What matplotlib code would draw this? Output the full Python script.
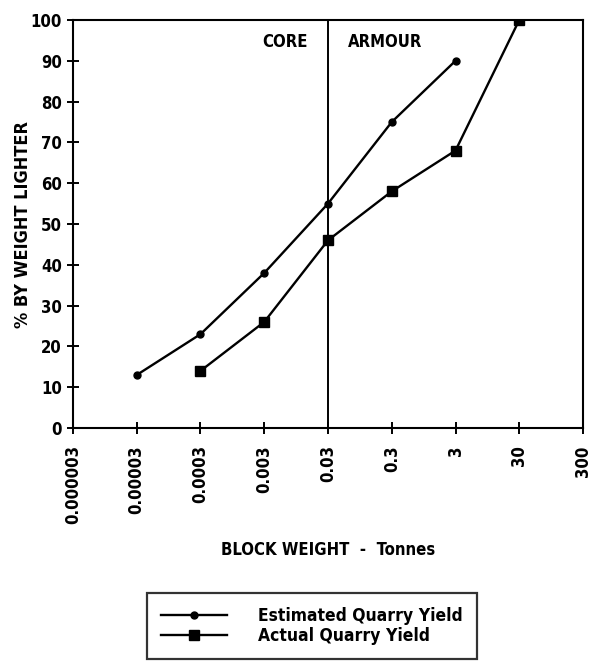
import matplotlib
matplotlib.use("Agg")
import matplotlib.pyplot as plt

# Data
x_ticks = [0.000003, 0.00003, 0.0003, 0.003, 0.03, 0.3, 3, 30, 300]
x_tick_labels = ["0.000003", "0.00003", "0.0003", "0.003", "0.03", "0.3", "3", "30", "300"]
est_x = [0.00003, 0.0003, 0.003, 0.03, 0.3, 3]
est_y = [13, 23, 38, 55, 75, 90]
act_x = [0.0003, 0.003, 0.03, 0.3, 3, 30]
act_y = [14, 26, 46, 58, 68, 100]
divider_x = 0.03

plt.rcParams['font.family'] = ['DejaVu Sans Condensed', 'DejaVu Sans']
plt.rcParams['font.weight'] = 'bold'
plt.rcParams['font.stretch'] = 'condensed'

fig = plt.figure(figsize=(5.91, 6.64), dpi=100)
ax = fig.add_axes([0.1235, 0.3554, 0.863, 0.6145])

ax.plot(est_x, est_y, color='black', lw=1.7, marker='o', ms=5, label='Estimated Quarry Yield')
ax.plot(act_x, act_y, color='black', lw=1.7, marker='s', ms=6.5, label='Actual Quarry Yield')
ax.axvline(divider_x, color='black', lw=1.4)

ax.set_xscale('log')
ax.set_xlim(x_ticks[0], x_ticks[-1])
ax.set_ylim(0, 100)
ax.set_xticks(x_ticks)
ax.set_xticklabels(x_tick_labels, rotation=90, fontsize=12, fontweight='bold')
ax.minorticks_off()
ax.set_yticks(range(0, 101, 10))
ax.tick_params(axis='y', labelsize=12, direction='inout', length=9, width=1.4)
ax.tick_params(axis='x', direction='inout', length=9, width=1.4, pad=8)
for s in ax.spines.values():
    s.set_linewidth(1.5)

ax.text(0.0146, 94.5, 'CORE', ha='right', va='center', fontsize=12, fontweight='bold')
ax.text(0.062, 94.5, 'ARMOUR', ha='left', va='center', fontsize=12, fontweight='bold')

ax.set_ylabel('% BY WEIGHT LIGHTER', fontsize=13, fontweight='bold', labelpad=-1)
ax.set_xlabel('BLOCK WEIGHT  -  Tonnes', fontsize=12, fontweight='bold', labelpad=12)

h, l = ax.get_legend_handles_labels()
leg = fig.legend(h, l, loc='upper center', bbox_to_anchor=(0.528, 0.107), ncol=1,
                 frameon=True, fancybox=False, edgecolor='black', fontsize=12.5,
                 handlelength=3.8, borderpad=0.8, labelspacing=0.15, handletextpad=1.8,
                 borderaxespad=0)
leg.get_frame().set_linewidth(1.6)

fig.savefig('out.png', dpi=100)
